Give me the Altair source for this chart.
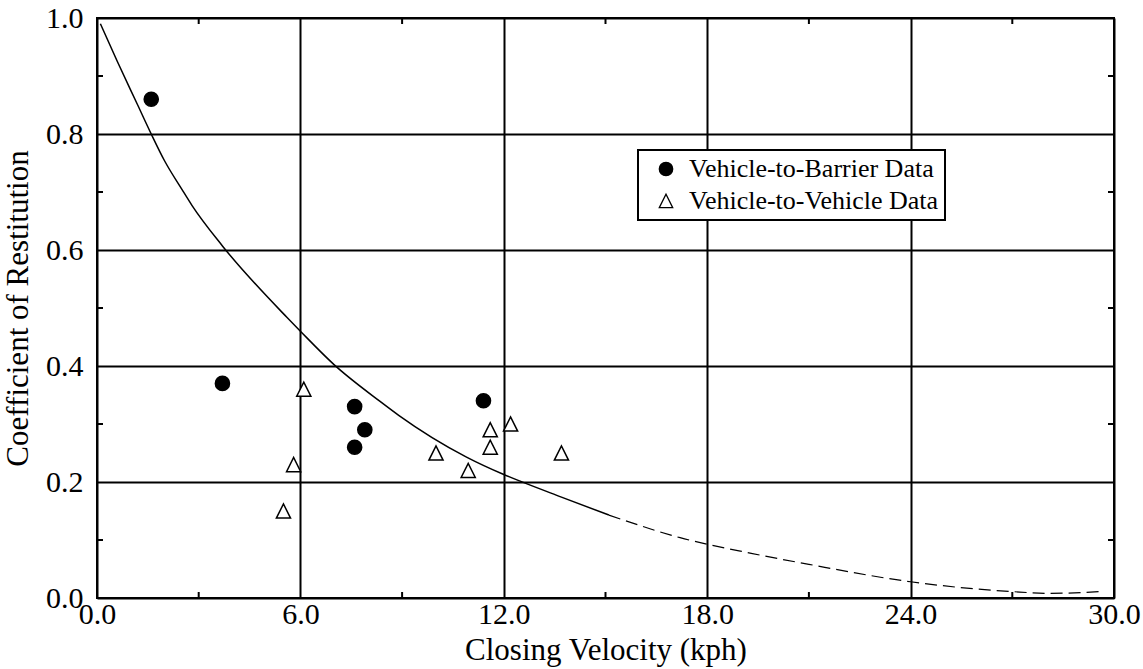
import altair as alt
import pandas as pd

# Measured coefficients of restitution
barrier_x = [1.6, 3.7, 7.6, 7.9, 7.6, 11.4]
barrier_y = [0.86, 0.37, 0.33, 0.29, 0.26, 0.34]
vehicle_x = [5.5, 5.8, 6.1, 10.0, 10.95, 11.6, 11.6, 12.2, 13.7]
vehicle_y = [0.15, 0.23, 0.36, 0.25, 0.22, 0.29, 0.26, 0.30, 0.25]

# Fitted curve: solid over the tested range, dashed beyond it
fit_x = [0.1, 0.6, 1.2, 1.6, 2.0, 2.5, 2.8, 3.7, 5.6, 6.0, 7.0, 8.35, 8.9,
         10.9, 12.0, 12.5, 13.7, 15.1]
fit_y = [0.99, 0.925, 0.85, 0.80, 0.753, 0.705, 0.677, 0.607, 0.484, 0.46,
         0.402, 0.339, 0.315, 0.243, 0.213, 0.201, 0.174, 0.143]
ext_x = [15.1, 17.2, 19.3, 21.0, 24.0, 27.0, 28.1, 29.6]
ext_y = [0.143, 0.104, 0.077, 0.058, 0.028, 0.011, 0.008, 0.011]

major_x = [0, 6, 12, 18, 24, 30]
major_y = [0.0, 0.2, 0.4, 0.6, 0.8, 1.0]
minor_x = [3, 9, 15, 21, 27]
minor_y = [0.1, 0.3, 0.5, 0.7, 0.9]

series = ["Vehicle-to-Barrier Data", "Vehicle-to-Vehicle Data"]

W, H = 1017, 580
FONT = "'Liberation Serif', 'Times New Roman', 'DejaVu Serif', serif"
TICK = 6

points = pd.DataFrame({
    "x": barrier_x + vehicle_x,
    "y": barrier_y + vehicle_y,
    "kind": [series[0]] * len(barrier_x) + [series[1]] * len(vehicle_x),
})
fit = pd.DataFrame({"x": fit_x, "y": fit_y})
ext = pd.DataFrame({"x": ext_x, "y": ext_y})
mx = pd.DataFrame({"x": minor_x})
my = pd.DataFrame({"y": minor_y})

xs = alt.Scale(domain=[0, 30], nice=False, zero=False)
ys = alt.Scale(domain=[0, 1], nice=False, zero=False)

x_axis = alt.Axis(
    values=major_x, format=".1f", title="Closing Velocity (kph)",
    grid=True, gridColor="black", gridWidth=2, gridOpacity=1,
    ticks=False, tickSize=0, domain=False,
    labelFont=FONT, labelFontSize=30, labelColor="black", labelPadding=1,
    labelFlush=False, labelOverlap=False,
    titleFont=FONT, titleFontSize=31, titleFontWeight="normal",
    titleColor="black", titlePadding=6,
)
y_axis = alt.Axis(
    values=major_y, format=".1f", title="Coefficient of Restitution",
    grid=True, gridColor="black", gridWidth=2, gridOpacity=1,
    ticks=False, tickSize=0, domain=False,
    labelFont=FONT, labelFontSize=30, labelColor="black", labelPadding=14,
    labelFlush=False, labelOverlap=False, labelBaseline="middle",
    titleFont=FONT, titleFontSize=31, titleFontWeight="normal",
    titleColor="black", titlePadding=11,
)

X = alt.X("x:Q", scale=xs, axis=x_axis)
Y = alt.Y("y:Q", scale=ys, axis=y_axis)

curve = alt.Chart(fit).mark_line(
    color="black", strokeWidth=1.5, interpolate="monotone"
).encode(x=X, y=Y)

curve_ext = alt.Chart(ext).mark_line(
    color="black", strokeWidth=1.2, strokeDash=[12, 6], interpolate="monotone"
).encode(x=X, y=Y)

legend = alt.Legend(
    title=None, orient="none", legendX=541, legendY=132,
    labelFont=FONT, labelFontSize=26, labelColor="black", labelLimit=0,
    symbolSize=180, symbolStrokeColor="black", symbolStrokeWidth=1.3,
    symbolOffset=9, labelOffset=10, rowPadding=6, padding=6,
    strokeColor="black",
)

marks = alt.Chart(points).mark_point(
    strokeWidth=1.5, opacity=1, fillOpacity=1, strokeOpacity=1, size=200
).encode(
    x=X, y=Y,
    shape=alt.Shape(
        "kind:N",
        scale=alt.Scale(domain=series, range=["circle", "M-1,1L1,1L0,-1Z"]),
        legend=legend,
    ),
    fill=alt.Fill(
        "kind:N",
        scale=alt.Scale(domain=series, range=["black", "white"]),
        legend=legend,
    ),
    stroke=alt.Stroke(
        "kind:N",
        scale=alt.Scale(domain=series, range=["black", "black"]),
        legend=legend,
    ),
)

# Inward-pointing minor ticks on all four sides of the frame
tick_style = dict(color="black", strokeWidth=2)
tick_bottom = alt.Chart(mx).mark_rule(**tick_style).encode(
    x=X, y=alt.value(H), y2=alt.value(H - TICK)
)
tick_top = alt.Chart(mx).mark_rule(**tick_style).encode(
    x=X, y=alt.value(0), y2=alt.value(TICK)
)
tick_left = alt.Chart(my).mark_rule(**tick_style).encode(
    y=Y, x=alt.value(0), x2=alt.value(TICK)
)
tick_right = alt.Chart(my).mark_rule(**tick_style).encode(
    y=Y, x=alt.value(W), x2=alt.value(W - TICK)
)

chart = alt.layer(
    curve, curve_ext, tick_bottom, tick_top, tick_left, tick_right, marks
).properties(
    width=W, height=H,
    autosize=alt.AutoSizeParams(type="none"),
    padding={"left": 97, "top": 18, "right": 29, "bottom": 71},
    background="white",
).configure_view(
    stroke="black", strokeWidth=2
).configure_legend(
    strokeWidth=2, fillColor="white"
)

chart.save("out.html", embed_options={"renderer": "svg", "actions": False})
